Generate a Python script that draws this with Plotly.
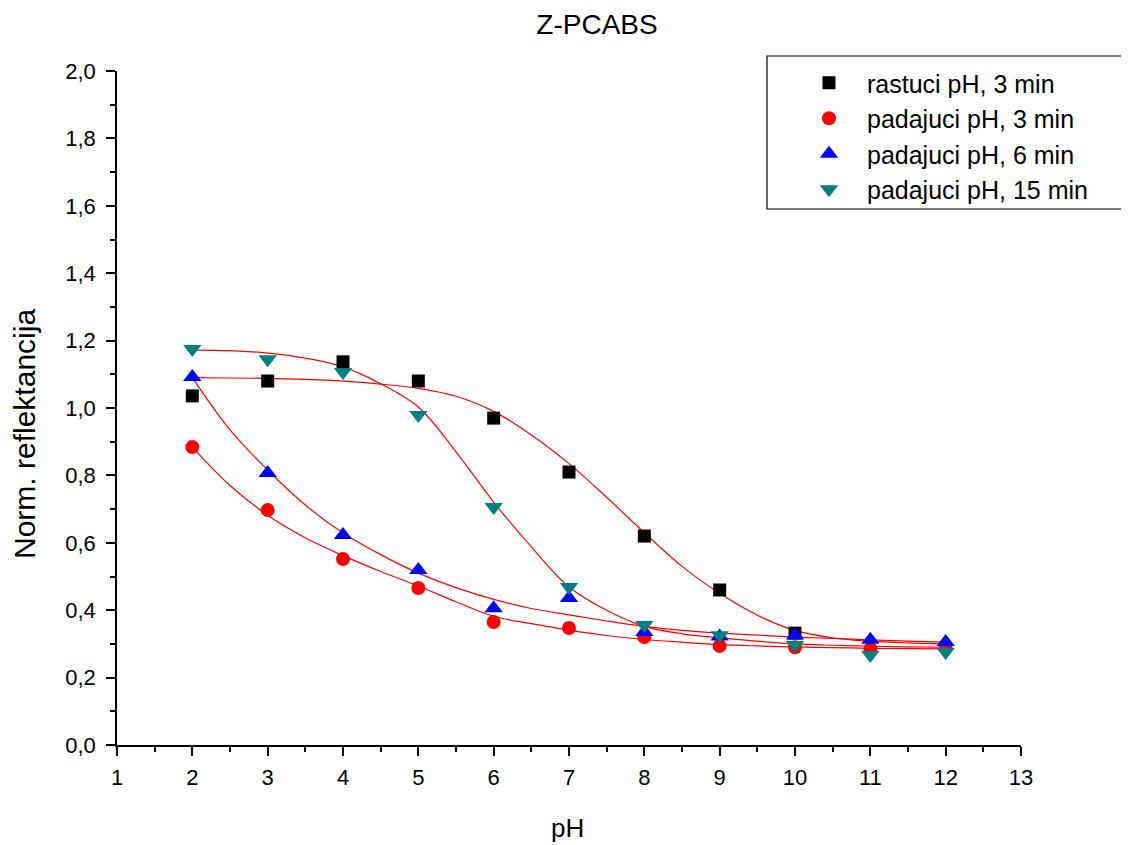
import plotly.graph_objects as go

# ---- data ----
ph = [2, 3, 4, 5, 6, 7, 8, 9, 10, 11, 12]

rastuci_3_x = [2, 3, 4, 5, 6, 7, 8, 9, 10]
rastuci_3_y = [1.036, 1.080, 1.137, 1.080, 0.970, 0.810, 0.620, 0.460, 0.332]

padajuci_3_y = [0.884, 0.697, 0.552, 0.466, 0.365, 0.347, 0.320, 0.294, 0.290, 0.285, 0.288]
padajuci_6_y = [1.092, 0.807, 0.623, 0.519, 0.406, 0.436, 0.335, 0.322, 0.325, 0.312, 0.306]
padajuci_15_y = [1.175, 1.145, 1.107, 0.979, 0.706, 0.469, 0.356, 0.326, 0.297, 0.267, 0.276]

# fitted curves
fit_x = [2, 2.5, 3, 3.5, 4, 4.5, 5, 5.5, 6, 6.5, 7, 7.5, 8, 8.5, 9, 9.5, 10, 10.5, 11, 11.5, 12]
fit_rastuci_3 = [1.090, 1.089, 1.088, 1.085, 1.080, 1.071, 1.058, 1.035, 0.990, 0.920, 0.835, 0.735, 0.630, 0.530, 0.450, 0.385, 0.340, 0.318, 0.308, 0.303, 0.300]
fit_padajuci_3 = [0.884, 0.770, 0.682, 0.615, 0.562, 0.515, 0.472, 0.425, 0.382, 0.360, 0.341, 0.325, 0.313, 0.305, 0.298, 0.294, 0.291, 0.289, 0.287, 0.286, 0.285]
fit_padajuci_6 = [1.090, 0.935, 0.816, 0.712, 0.629, 0.565, 0.510, 0.467, 0.432, 0.405, 0.386, 0.368, 0.352, 0.340, 0.332, 0.326, 0.320, 0.316, 0.312, 0.308, 0.305]
fit_padajuci_15 = [1.172, 1.170, 1.163, 1.148, 1.122, 1.072, 1.003, 0.870, 0.721, 0.588, 0.469, 0.400, 0.352, 0.330, 0.318, 0.308, 0.300, 0.296, 0.293, 0.291, 0.290]

names = ["rastuci pH, 3 min", "padajuci pH, 3 min", "padajuci pH, 6 min", "padajuci pH, 15 min"]
colors = ["#000000", "#ff0000", "#0000ff", "#008080"]
symbols = ["square", "circle", "triangle-up", "triangle-down"]
sizes = [13, 14, 16, 16]

fig = go.Figure()

# fit lines
for fy in [fit_rastuci_3, fit_padajuci_3, fit_padajuci_6, fit_padajuci_15]:
    fig.add_trace(go.Scatter(x=fit_x, y=fy, mode="lines", line=dict(color="#ff0000", width=1.2, shape="spline"),
                             showlegend=False, hoverinfo="skip"))

series = [(rastuci_3_x, rastuci_3_y), (ph, padajuci_3_y), (ph, padajuci_6_y), (ph, padajuci_15_y)]
for (sx, sy), n, c, s, sz in zip(series, names, colors, symbols, sizes):
    fig.add_trace(go.Scatter(x=sx, y=sy, mode="markers", name=n,
                             marker=dict(color=c, symbol=s, size=sz, line=dict(width=0))))

font_main = "Liberation Sans, Arial, sans-serif"

W, H = 1121, 837
L, R, T, B = 109, 108, 63, 100
PW, PH = W - L - R, H - T - B

def px(xf):
    return (xf - L) / PW

def py(yf):
    return (T + PH - yf) / PH

fig.update_layout(
    width=W, height=H,
    margin=dict(l=L, r=R, t=T, b=B),
    paper_bgcolor="white", plot_bgcolor="white",
    separators=", ",
    title=dict(text="Z-PCABS", x=px(589), xanchor="center",
               xref="paper", y=1 - 16 / H, yref="container", yanchor="middle",
               font=dict(family=font_main, size=28, color="black")),
    legend=dict(x=px(783), y=py(52), xanchor="left", yanchor="top",
                font=dict(family=font_main, size=25, color="black"),
                bgcolor="rgba(0,0,0,0)", borderwidth=0, itemwidth=66, tracegroupgap=0),
    showlegend=True,
)

fig.update_xaxes(range=[1, 13], tickmode="array", tickvals=list(range(1, 14)),
                 showgrid=False, zeroline=False, showline=True, linecolor="black", linewidth=1.5,
                 ticks="outside", ticklen=9, tickwidth=1.5, tickcolor="black", ticklabelstandoff=3,
                 minor=dict(tickmode="array", tickvals=[x + 0.5 for x in range(1, 13)], ticks="outside",
                            ticklen=5, tickwidth=1.5, tickcolor="black", showgrid=False),
                 tickfont=dict(family=font_main, size=22, color="black"))

fig.update_yaxes(range=[0, 2.0], tickmode="array", tickvals=[i * 0.2 for i in range(11)], tickformat=".1f",
                 showgrid=False, zeroline=False, showline=True, linecolor="black", linewidth=1.5,
                 ticks="outside", ticklen=9, tickwidth=1.5, tickcolor="black", ticklabelstandoff=6,
                 minor=dict(tickmode="array", tickvals=[0.1 + i * 0.2 for i in range(10)], ticks="outside",
                            ticklen=5, tickwidth=1.5, tickcolor="black", showgrid=False),
                 tickfont=dict(family=font_main, size=22, color="black"))

# axis titles
fig.add_annotation(text="Norm. reflektancija", xref="paper", yref="paper", x=px(16), y=py(426),
                   xanchor="center", yanchor="middle", textangle=-90, showarrow=False,
                   font=dict(family=font_main, size=30, color="black"))
fig.add_annotation(text="pH", xref="paper", yref="paper", x=px(559), y=py(820),
                   xanchor="center", yanchor="middle", showarrow=False,
                   font=dict(family=font_main, size=26, color="black"))

# legend frame
fig.add_shape(type="rect", xref="paper", yref="paper",
              x0=px(759), x1=px(1122), y0=py(201), y1=py(48),
              line=dict(color="black", width=1.2), fillcolor="rgba(0,0,0,0)")

fig.write_html("out.html")
